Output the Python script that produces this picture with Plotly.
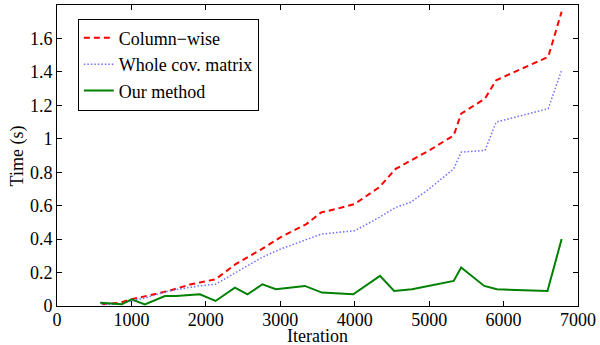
import plotly.graph_objects as go

# Timing per iteration for each covariance-update strategy
col_iter = [600, 850, 1000, 1200, 1500, 1800, 2000, 2130, 2400, 2750, 3000, 3350, 3550,
            3750, 4000, 4330, 4550, 5000, 5330, 5430, 5750, 5900, 6600, 6780]
col_time = [0.01, 0.02, 0.04, 0.06, 0.09, 0.13, 0.15, 0.16, 0.25, 0.34, 0.41, 0.49, 0.56,
            0.58, 0.61, 0.71, 0.82, 0.93, 1.02, 1.15, 1.24, 1.35, 1.49, 1.76]

cov_iter = [600, 850, 1000, 1200, 1500, 1900, 2130, 2400, 2750, 3000, 3550, 4000, 4330,
            4550, 4750, 5000, 5330, 5430, 5750, 5900, 6600, 6780]
cov_time = [0.01, 0.01, 0.03, 0.05, 0.09, 0.12, 0.13, 0.20, 0.29, 0.34, 0.43, 0.45, 0.53,
            0.59, 0.62, 0.70, 0.82, 0.92, 0.93, 1.10, 1.18, 1.41]

our_iter = [580, 870, 1000, 1180, 1450, 1600, 1920, 2130, 2390, 2560, 2760, 2940, 3330,
            3560, 3980, 4340, 4530, 4770, 5330, 5430, 5740, 5910, 6590, 6780]
our_time = [0.02, 0.01, 0.04, 0.01, 0.06, 0.06, 0.07, 0.03, 0.11, 0.07, 0.13, 0.10, 0.12,
            0.08, 0.07, 0.18, 0.09, 0.10, 0.15, 0.23, 0.12, 0.10, 0.09, 0.40]

x_ticks = [0, 1000, 2000, 3000, 4000, 5000, 6000, 7000]
y_ticks = [0, 0.2, 0.4, 0.6, 0.8, 1, 1.2, 1.4, 1.6]
y_tick_text = ["0", "0.2", "0.4", "0.6", "0.8", "1", "1.2", "1.4", "1.6"]

FONT = "Liberation Serif"
FS = 18
TXT = dict(family=FONT, size=FS, color="black")

fig = go.Figure()
fig.add_trace(go.Scatter(x=col_iter, y=col_time, mode="lines", name="Column\u2212wise",
                         line=dict(color="rgb(255,0,0)", width=2, dash="6px,4px")))
fig.add_trace(go.Scatter(x=cov_iter, y=cov_time, mode="lines", name="Whole cov. matrix",
                         line=dict(color="rgb(110,110,255)", width=1.5, dash="1.5px,2px")))
fig.add_trace(go.Scatter(x=our_iter, y=our_time, mode="lines", name="Our method",
                         line=dict(color="rgb(0,128,0)", width=2)))

axis_common = dict(showline=True, linecolor="black", linewidth=1, mirror="ticks",
                   ticks="inside", ticklen=5, tickcolor="black", showgrid=False,
                   zeroline=False, automargin=False, tickfont=TXT)

fig.update_xaxes(range=[0, 7000], tickvals=x_ticks, ticktext=[str(v) for v in x_ticks],
                 ticklabelstandoff=-3, **axis_common)
fig.update_yaxes(range=[0, 1.8], tickvals=y_ticks, ticktext=y_tick_text,
                 **axis_common)

# Axis titles placed just outside the tick labels
fig.add_annotation(text="Iteration", xref="paper", yref="paper", x=0.5, y=-0.1,
                   xanchor="center", yanchor="middle", showarrow=False, font=TXT)
fig.add_annotation(text="Time (s)", xref="paper", yref="paper", x=-0.075, y=0.5,
                   xanchor="center", yanchor="middle", textangle=-90,
                   showarrow=False, font=TXT)

fig.update_layout(
    width=600, height=345,
    margin=dict(l=57, r=22, t=5, b=39, autoexpand=False),
    plot_bgcolor="white", paper_bgcolor="white",
    font=TXT,
    legend=dict(x=0.04, y=0.955, xanchor="left", yanchor="top",
                bordercolor="black", borderwidth=1, bgcolor="white",
                font=TXT, itemwidth=30, tracegroupgap=0),
    showlegend=True,
)

fig.write_html("out.html")
